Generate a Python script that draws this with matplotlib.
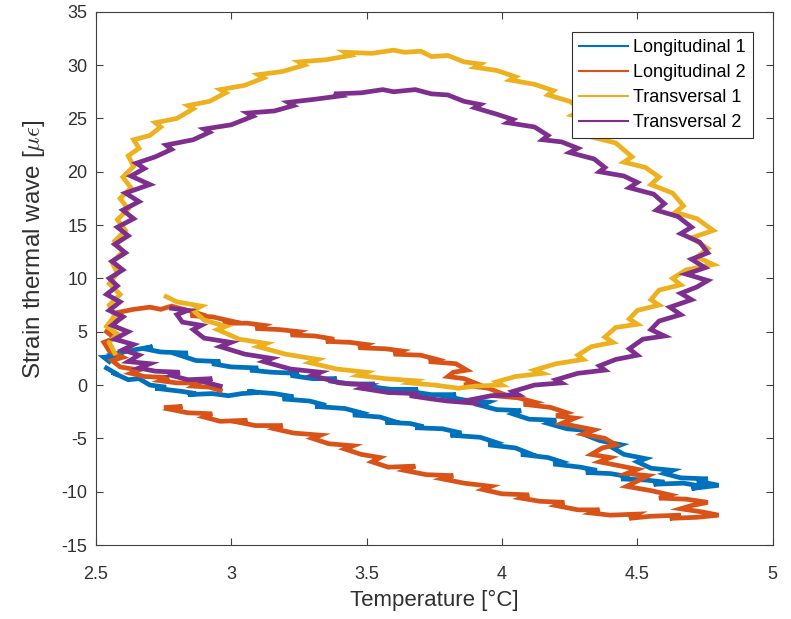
import matplotlib.pyplot as plt
import numpy as np

plt.rcParams['font.family'] = ['Liberation Sans', 'DejaVu Sans']
plt.rcParams['mathtext.fontset'] = 'cm'
plt.rcParams['axes.unicode_minus'] = False

# Longitudinal 1 (temperature, strain)
l1_x = [2.54, 2.58, 2.56, 2.62, 2.66, 2.70, 2.76, 2.72, 2.82, 2.87, 2.84, 2.93, 2.99, 3.04, 3.10, 3.06,
        3.16, 3.23, 3.19, 3.29, 3.35, 3.31, 3.42, 3.48, 3.45, 3.55, 3.60, 3.57, 3.66, 3.71, 3.68, 3.78,
        3.85, 3.81, 3.92, 3.98, 3.95, 4.05, 4.10, 4.07, 4.17, 4.22, 4.19, 4.29, 4.35, 4.31, 4.40, 4.47,
        4.44, 4.53, 4.60, 4.56, 4.67, 4.74, 4.70, 4.80,
        4.72, 4.76, 4.66, 4.60, 4.63, 4.55, 4.50, 4.53, 4.45, 4.41, 4.44, 4.36, 4.30, 4.33, 4.24, 4.17,
        4.20, 4.10, 4.04, 4.07, 3.98, 3.92, 3.95, 3.86, 3.80, 3.83, 3.74, 3.66, 3.69, 3.59, 3.50, 3.53,
        3.44, 3.36, 3.39, 3.30, 3.22, 3.25, 3.15, 3.07, 3.10, 3.00, 2.93, 2.96, 2.87, 2.81, 2.84, 2.74,
        2.68, 2.71, 2.62, 2.57, 2.60, 2.53, 2.55]
l1_y = [1.6, 1.0, 1.2, 0.5, 0.6, 0.0, -0.2, -0.3, -0.6, -0.8, -0.9, -0.8, -1.0, -0.8, -0.7, -0.6,
        -0.8, -1.1, -1.3, -1.5, -1.9, -2.0, -2.2, -2.6, -2.8, -3.0, -3.4, -3.5, -3.6, -3.9, -4.0, -4.1,
        -4.5, -4.7, -4.9, -5.4, -5.6, -5.9, -6.4, -6.5, -6.8, -7.2, -7.4, -7.7, -8.0, -8.2, -8.3, -8.6,
        -8.8, -8.9, -9.1, -9.3, -9.2, -9.5, -9.7, -9.4,
        -9.0, -8.8, -8.7, -8.3, -8.0, -7.8, -7.2, -6.9, -6.5, -5.9, -5.6, -5.2, -4.6, -4.3, -4.1, -3.6,
        -3.3, -3.2, -2.7, -2.4, -2.3, -1.9, -1.6, -1.4, -1.1, -0.9, -0.9, -0.6, -0.4, -0.4, -0.1, 0.1,
        0.1, 0.4, 0.6, 0.6, 0.9, 1.1, 1.2, 1.4, 1.6, 1.7, 2.0, 2.2, 2.3, 2.8, 3.0, 3.1,
        3.4, 3.6, 3.2, 2.9, 2.7, 2.6, 2.2]

# Longitudinal 2
l2_x = [2.96, 2.92, 2.86, 2.88, 2.80, 2.74, 2.77, 2.68, 2.63, 2.66, 2.59, 2.56, 2.60, 2.55, 2.53, 2.57,
        2.54, 2.56, 2.60, 2.58, 2.64, 2.70, 2.74, 2.78, 2.84, 2.88, 2.85, 2.93, 3.00, 2.97, 3.06, 3.12,
        3.09, 3.18, 3.25, 3.22, 3.31, 3.38, 3.35, 3.44, 3.50, 3.47, 3.57, 3.63, 3.60, 3.70, 3.76, 3.73,
        3.83, 3.87, 3.82, 3.80, 3.86, 3.90, 3.86, 3.95, 4.00, 3.97, 4.06, 4.12, 4.08, 4.18, 4.24, 4.20,
        4.27, 4.22, 4.28, 4.34, 4.30, 4.38, 4.42, 4.37, 4.33, 4.40, 4.36, 4.44, 4.50, 4.46, 4.54, 4.50,
        4.46, 4.55, 4.62, 4.58, 4.68, 4.76, 4.70, 4.66, 4.74, 4.80, 4.72, 4.62, 4.66, 4.55, 4.47, 4.50,
        4.40, 4.33, 4.36, 4.28, 4.20, 4.23, 4.14, 4.07, 4.10, 4.00, 3.93, 3.96, 3.86, 3.78, 3.82, 3.72,
        3.64, 3.68, 3.58, 3.52, 3.55, 3.48, 3.42, 3.45, 3.36, 3.30, 3.33, 3.23, 3.16, 3.19, 3.09, 3.03,
        3.06, 2.96, 2.90, 2.93, 2.84, 2.78, 2.82, 2.76]
l2_y = [-0.5, -0.2, -0.1, 0.2, 0.2, 0.4, 0.7, 0.8, 1.1, 1.4, 1.7, 2.3, 2.6, 3.2, 4.0, 4.4,
        5.0, 5.8, 6.4, 6.8, 7.1, 7.3, 7.1, 7.4, 7.0, 6.7, 6.5, 6.4, 6.0, 5.8, 5.8, 5.6,
        5.3, 5.2, 5.0, 4.7, 4.6, 4.3, 4.1, 4.0, 3.8, 3.5, 3.4, 3.2, 2.9, 2.8, 2.4, 2.2,
        2.0, 1.4, 1.2, 0.8, 0.6, 0.2, 0.0, -0.3, -0.8, -1.0, -1.2, -1.6, -1.8, -2.1, -2.6, -2.9,
        -3.1, -3.6, -3.9, -4.2, -4.6, -5.0, -5.6, -5.9, -6.5, -6.8, -7.2, -7.6, -7.9, -8.3, -8.5, -9.0,
        -9.5, -9.9, -10.3, -10.6, -10.7, -11.0, -11.3, -11.6, -11.9, -12.2, -12.4, -12.5, -12.2, -12.3, -12.5, -12.1,
        -12.2, -12.0, -11.7, -11.7, -11.3, -11.0, -10.9, -10.6, -10.3, -10.2, -9.8, -9.5, -9.2, -8.8, -8.5, -8.4,
        -8.0, -7.6, -7.7, -7.2, -6.8, -6.5, -6.0, -5.7, -5.5, -5.0, -4.7, -4.5, -4.1, -3.8, -3.8, -3.5,
        -3.3, -3.4, -3.0, -2.7, -2.6, -2.3, -2.0, -2.1]

# Transversal 1
t1_x = [2.57, 2.55, 2.58, 2.54, 2.57, 2.55, 2.59, 2.55, 2.58, 2.56, 2.60, 2.57, 2.61, 2.58, 2.62, 2.59,
        2.63, 2.60, 2.64, 2.62, 2.66, 2.64, 2.70, 2.74, 2.72, 2.80, 2.86, 2.84, 2.92, 2.98, 2.96, 3.05,
        3.12, 3.10, 3.19, 3.27, 3.25, 3.35, 3.44, 3.42, 3.52, 3.60, 3.64, 3.70, 3.74, 3.80, 3.86, 3.92,
        3.90, 3.98, 4.05, 4.03, 4.12, 4.19, 4.17, 4.25, 4.30, 4.26, 4.34, 4.38, 4.34, 4.42, 4.48, 4.45,
        4.53, 4.58, 4.55, 4.63, 4.67, 4.64, 4.72, 4.78, 4.70, 4.76, 4.72, 4.78, 4.68, 4.63, 4.66, 4.58,
        4.55, 4.58, 4.50, 4.47, 4.50, 4.42, 4.38, 4.41, 4.33, 4.28, 4.30, 4.20, 4.12, 4.15, 4.05, 3.98,
        4.00, 3.90, 3.84, 3.75, 3.66, 3.68, 3.57, 3.47, 3.50, 3.39, 3.29, 3.32, 3.20, 3.10, 3.13, 3.03,
        2.95, 2.98, 2.90, 2.86, 2.89, 2.80, 2.76]
t1_y = [3.0, 4.0, 4.8, 5.5, 6.5, 7.5, 8.5, 9.5, 10.5, 11.5, 12.5, 13.5, 14.5, 15.5, 16.5, 17.5,
        18.5, 19.5, 20.5, 21.5, 22.2, 23.0, 23.4, 24.2, 24.6, 25.0, 25.9, 26.2, 26.6, 27.4, 27.7, 28.1,
        28.8, 29.1, 29.4, 30.0, 30.3, 30.5, 30.9, 31.2, 31.1, 31.4, 31.2, 31.3, 30.8, 30.9, 30.3, 30.1,
        29.8, 29.5, 28.9, 28.6, 28.2, 27.6, 27.2, 26.6, 25.8, 25.3, 24.8, 23.8, 23.2, 22.7, 21.4, 20.9,
        20.4, 19.5, 18.8, 18.0, 16.8, 16.2, 15.6, 14.5, 13.8, 12.8, 12.0, 11.3, 10.8, 10.0, 9.4, 8.9,
        8.0, 7.5, 7.0, 6.2, 5.7, 5.4, 4.5, 4.0, 3.6, 2.8, 2.4, 2.0, 1.4, 1.1, 0.8, 0.3,
        0.0, -0.1, -0.3, 0.0, 0.2, 0.4, 0.6, 0.9, 1.2, 1.5, 2.1, 2.4, 2.9, 3.6, 3.9, 4.3,
        5.2, 5.5, 6.1, 7.0, 7.4, 7.8, 8.3]

# Transversal 2
t2_x = [2.96, 2.90, 2.93, 2.84, 2.78, 2.81, 2.72, 2.66, 2.70, 2.62, 2.66, 2.60, 2.64, 2.57, 2.62, 2.56,
        2.60, 2.55, 2.59, 2.54, 2.58, 2.55, 2.60, 2.56, 2.61, 2.57, 2.62, 2.58, 2.64, 2.60, 2.66, 2.61,
        2.70, 2.63, 2.68, 2.65, 2.72, 2.78, 2.76, 2.86, 2.92, 2.90, 3.00, 3.08, 3.06, 3.16, 3.23, 3.21,
        3.31, 3.40, 3.38, 3.48, 3.56, 3.60, 3.68, 3.74, 3.80, 3.86, 3.92, 3.90, 3.98, 4.04, 4.02, 4.12,
        4.17, 4.15, 4.22, 4.28, 4.25, 4.34, 4.38, 4.36, 4.45, 4.50, 4.47, 4.56, 4.60, 4.57, 4.65, 4.70,
        4.66, 4.73, 4.76, 4.70, 4.75, 4.68, 4.76, 4.72, 4.66, 4.70, 4.62, 4.66, 4.58, 4.55, 4.60, 4.52,
        4.47, 4.50, 4.42, 4.36, 4.38, 4.28, 4.20, 4.22, 4.12, 4.04, 4.06, 3.96, 3.88, 3.90, 3.80, 3.74,
        3.66, 3.69, 3.58, 3.48, 3.51, 3.40, 3.30, 3.33, 3.22, 3.12, 3.15, 3.05, 2.96, 3.00, 2.90, 2.86,
        2.89, 2.82, 2.80, 2.84, 2.78]
t2_y = [-0.1, 0.3, 0.6, 0.5, 0.9, 1.2, 1.3, 1.6, 2.0, 2.2, 2.8, 3.3, 3.8, 4.3, 5.0, 5.6,
        6.4, 7.0, 7.8, 8.5, 9.3, 10.0, 10.8, 11.6, 12.4, 13.2, 14.0, 14.8, 15.6, 16.4, 17.2, 18.0,
        18.8, 19.6, 20.3, 20.8, 21.4, 22.1, 22.5, 23.0, 23.7, 24.0, 24.4, 25.2, 25.5, 25.7, 26.2, 26.5,
        26.8, 27.1, 27.3, 27.4, 27.7, 27.5, 27.7, 27.3, 27.2, 26.6, 26.3, 26.0, 25.4, 24.9, 24.6, 24.2,
        23.4, 23.0, 22.8, 22.2, 21.8, 21.2, 20.4, 20.0, 19.6, 19.0, 18.5, 17.9, 17.0, 16.4, 15.8, 14.8,
        14.2, 13.4, 12.4, 11.8, 11.0, 10.4, 9.8, 9.2, 8.6, 8.0, 7.3, 6.6, 6.0, 5.2, 4.6, 4.3,
        3.4, 2.8, 2.4, 1.8, 1.4, 1.1, 0.5, 0.2, 0.0, -0.6, -0.9, -1.0, -1.4, -1.7, -1.5, -1.3,
        -1.0, -0.8, -0.7, -0.3, 0.0, 0.2, 0.9, 1.2, 1.5, 2.2, 2.5, 2.9, 3.6, 4.0, 4.4, 5.2,
        5.6, 5.9, 6.6, 7.0, 7.2]

labels = ['Longitudinal 1', 'Longitudinal 2', 'Transversal 1', 'Transversal 2']
colors = ['#0072BD', '#D95319', '#EDB120', '#7E2F8E']

fig = plt.figure(figsize=(7.91, 6.19), dpi=100)
ax = fig.add_axes([0.121, 0.1195, 0.856, 0.8615])

series = [(l1_x, l1_y), (l2_x, l2_y), (t1_x, t1_y), (t2_x, t2_y)]
for (xs, ys), lab, c in zip(series, labels, colors):
    ax.plot(xs, ys, color=c, lw=3.4, label=lab, solid_joinstyle='miter')

ax.set_xlim(2.5, 5)
ax.set_ylim(-15, 35)
ax.set_xticks(np.arange(2.5, 5.01, 0.5))
ax.set_xticklabels(['2.5', '3', '3.5', '4', '4.5', '5'])
ax.set_yticks(np.arange(-15, 36, 5))
ax.tick_params(direction='in', length=5, width=0.8, top=True, right=True,
               labelsize=13, colors='#404040', labelcolor='#303030')
ax.tick_params(axis='x', pad=15)
ax.tick_params(axis='y', pad=6)
for s in ax.spines.values():
    s.set_color('#404040')
    s.set_linewidth(0.8)

ax.set_xlabel('Temperature [°C]', fontsize=16, color='#303030', labelpad=5)
ax.set_ylabel(r'Strain thermal wave [$\mu\epsilon$]', fontsize=17.5, color='#303030')
ax.yaxis.set_label_coords(-0.072, 0.555)

leg = ax.legend(loc='upper right', fontsize=13, fancybox=False, framealpha=1,
                edgecolor='#303030', handlelength=2.7, borderaxespad=1.1,
                labelspacing=0.45, handletextpad=0.3, borderpad=0.4)
for h in leg.get_lines():
    h.set_linewidth(1.5)
leg.get_frame().set_linewidth(0.8)

fig.savefig('out.png', dpi=100)
